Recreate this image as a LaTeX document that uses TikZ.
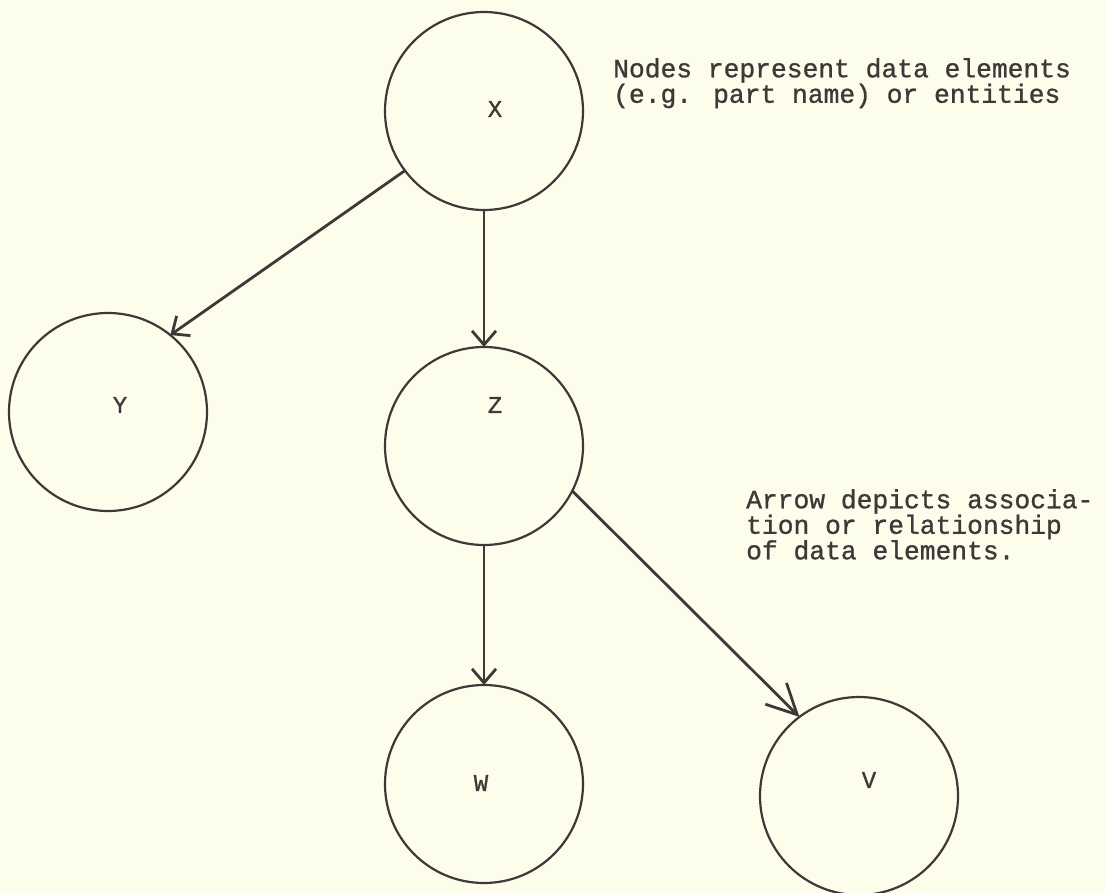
\documentclass[tikz,border=0pt]{standalone}
\usepackage{fontspec}
\newfontfamily\tw[FakeBold=1]{Liberation Mono}
\usetikzlibrary{arrows.meta}
\definecolor{paper}{RGB}{253,253,236}
\definecolor{ink}{RGB}{64,56,56}
\begin{document}
\begin{tikzpicture}[x=1pt,y=-1pt,
  circ/.style={circle,draw=ink,line width=2.2pt,minimum size=198pt,inner sep=0pt,outer sep=0pt},
  lbl/.style={font={\tw\fontsize{24}{24}\selectfont},text=ink,inner sep=0pt},
  note/.style={font={\tw\fontsize{26.3}{24.5}\selectfont},text=ink,inner sep=0pt,align=left,anchor=north west},
  link/.style={draw=ink,line width=2.8pt,-{Straight Barb[length=14pt,width=24pt,line width=2.8pt]}},
  biglink/.style={draw=ink,line width=2.8pt,-{Straight Barb[length=30pt,width=30pt,line width=2.8pt]}}]
\fill[paper] (0,0) rectangle (1105,893);
\useasboundingbox (0,0) rectangle (1105,893);
\node[circ] (X) at (484,111) {};
\node[circ] (Y) at (108,412) {};
\node[circ] (Z) at (484,446) {};
\node[circ] (W) at (484,784) {};
\node[circ] (V) at (859,796) {};
\node[lbl] (lx) at (495,109) {X};
\node[lbl] (ly) at (120,405) {Y};
\node[lbl] (lz) at (495,405) {Z};
\node[lbl] (lw) at (481,783) {W};
\node[lbl] (lv) at (869,780) {V};
\draw[link] (X.217) -- (Y.51);
\draw[link] (X.south) -- (Z.north);
\draw[link] (Z.south) -- (W.north);
\draw[biglink] (Z.-27) -- (V.127);
\node[note] (n1) at (613,58) {Nodes represent data elements\\(e.g. part name) or entities};
\node[note] (n2) at (746,489) {Arrow depicts associa-\\tion or relationship\\of data elements.};
\end{tikzpicture}
\end{document}
